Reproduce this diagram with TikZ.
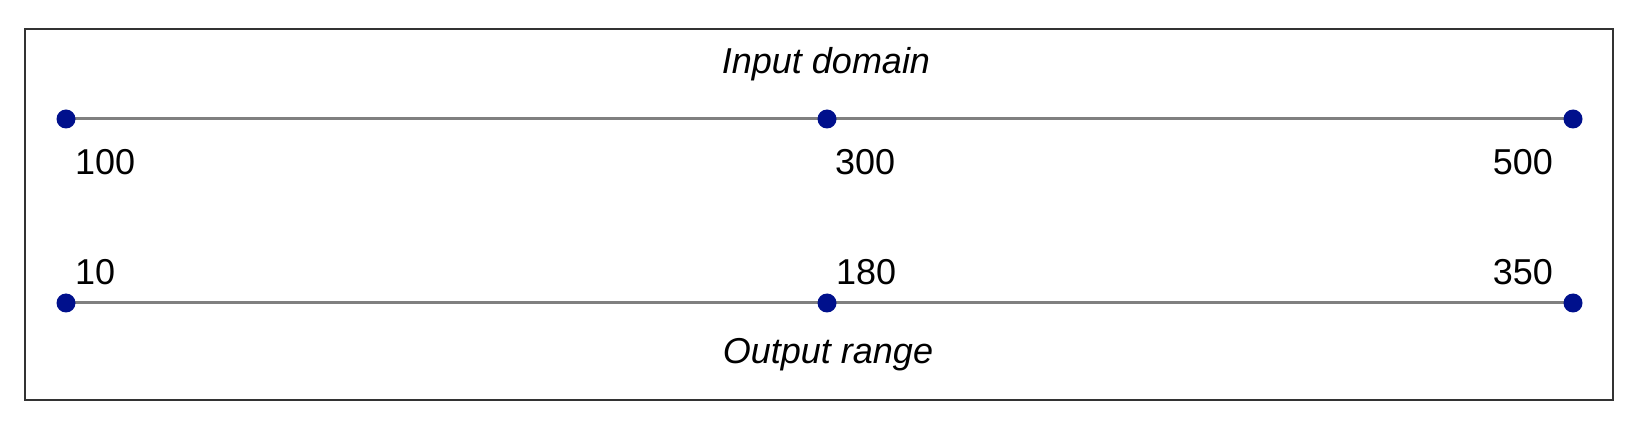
\documentclass[tikz,border=0pt]{standalone}
\usepackage{fontspec}
\setmainfont{Liberation Sans}
\definecolor{dotblue}{RGB}{0,16,140}
\definecolor{linegray}{RGB}{128,128,128}
\definecolor{framegray}{RGB}{51,51,51}
\begin{document}
\begin{tikzpicture}[x=1pt,y=-1pt,
  dotnode/.style={circle,fill=dotblue,inner sep=0pt,minimum size=19pt},
  axisline/.style={draw=linegray,line width=3pt},
  numlabel/.style={font=\fontsize{36}{40}\selectfont,inner sep=0pt},
  titlelabel/.style={font=\fontsize{36}{40}\selectfont\itshape,inner sep=0pt,anchor=base}]
\useasboundingbox (0,0) rectangle (1650,430);
\draw[framegray,line width=1.5pt] (25,29) rectangle (1613,400);
% input axis
\coordinate (i1) at (66,119);
\coordinate (i2) at (827,119);
\coordinate (i3) at (1573,119);
\draw[axisline] (i1) -- (i3);
\node[dotnode] (di1) at (i1) {};
\node[dotnode] (di2) at (i2) {};
\node[dotnode] (di3) at (i3) {};
% output axis
\coordinate (o1) at (66,303);
\coordinate (o2) at (827,303);
\coordinate (o3) at (1573,303);
\draw[axisline] (o1) -- (o3);
\node[dotnode] (do1) at (o1) {};
\node[dotnode] (do2) at (o2) {};
\node[dotnode] (do3) at (o3) {};
% labels
\node[numlabel,anchor=base west] (l100) at (75,175) {100};
\node[numlabel,anchor=base west] (l300) at (835,175) {300};
\node[numlabel,anchor=base east] (l500) at (1553,175) {500};
\node[numlabel,anchor=base west] (l10) at (75,285) {10};
\node[numlabel,anchor=base west] (l180) at (836,285) {180};
\node[numlabel,anchor=base east] (l350) at (1553,285) {350};
\node[titlelabel] (tin) at (826,74) {Input domain};
\node[titlelabel] (tout) at (828,363) {Output range};
\end{tikzpicture}
\end{document}
